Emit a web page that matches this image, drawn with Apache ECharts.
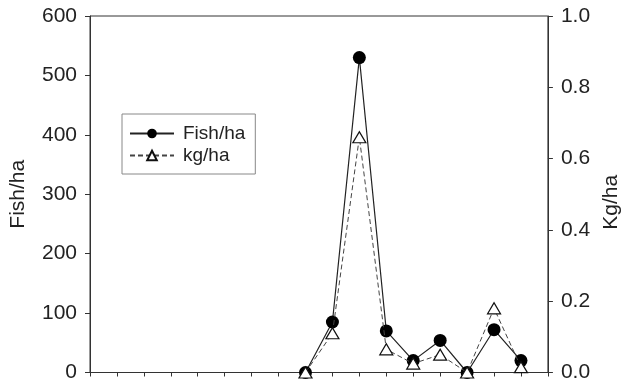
<!DOCTYPE html>
<html>
<head>
<meta charset="utf-8">
<script src="https://cdn.jsdelivr.net/npm/echarts@6/dist/echarts.min.js"></script>
<style>
  html, body { margin: 0; padding: 0; background: #fff; }
  #chart { width: 630px; height: 383px; }
</style>
</head>
<body>
<div id="chart"></div>
<script>
// Sampling stations along the x axis (positions 0..17, ticks at 1..16)
const stations = [8, 9, 10, 11, 12, 13, 14, 15, 16];
// Fish density (left axis)
const fishPerHa = [0, 85, 530, 70, 20, 54, 0, 72, 20];
// Biomass (right axis)
const kgPerHa = [0, 0.11, 0.66, 0.065, 0.025, 0.05, 0, 0.18, 0.015];
// Tick settings
const leftTicks = { min: 0, max: 600, interval: 100 };
const rightTicks = { min: 0, max: 1.0, interval: 0.2 };

const font = '"Liberation Sans", Arial, Helvetica, sans-serif';
const ink = '#222';

const chart = echarts.init(document.getElementById('chart'), null, { renderer: 'canvas' });

chart.setOption({
  animation: false,
  backgroundColor: '#fff',
  textStyle: { fontFamily: font },
  grid: {
    left: 89, right: 77, top: 16, bottom: 9,
    show: true, borderColor: '#333', borderWidth: 1, backgroundColor: 'transparent'
  },
  legend: {
    left: 122, top: 114,
    orient: 'vertical',
    borderColor: '#888', borderWidth: 1, borderRadius: 0,
    padding: [10, 10, 9, 7],
    itemWidth: 44, itemHeight: 12, itemGap: 3,
    textStyle: { fontFamily: font, fontSize: 19, color: ink, lineHeight: 19, padding: [0, 0, 0, 4] },
    data: ['Fish/ha', 'kg/ha']
  },
  xAxis: {
    type: 'value', min: 0, max: 17, interval: 1,
    axisLine: { show: true, lineStyle: { color: '#333', width: 1 } },
    axisTick: { show: true, inside: false, length: 4, lineStyle: { color: '#333' } },
    axisLabel: { show: false },
    splitLine: { show: false }
  },
  yAxis: [
    {
      type: 'value', min: leftTicks.min, max: leftTicks.max, interval: leftTicks.interval,
      position: 'left',
      name: 'Fish/ha', nameLocation: 'middle', nameGap: 61,
      nameTextStyle: { fontFamily: font, fontSize: 21, color: ink },
      axisLine: { show: true, lineStyle: { color: '#333', width: 1 } },
      axisTick: { show: true, inside: false, length: 5, lineStyle: { color: '#333' } },
      axisLabel: { fontFamily: font, fontSize: 21, color: ink, margin: 13 },
      splitLine: { show: false }
    },
    {
      type: 'value', min: rightTicks.min, max: rightTicks.max, interval: rightTicks.interval,
      position: 'right',
      name: 'Kg/ha', nameLocation: 'middle', nameGap: 37,
      nameTextStyle: { fontFamily: font, fontSize: 21, color: ink, padding: [0, 16, 0, 0] },
      axisLine: { show: true, lineStyle: { color: '#333', width: 1 } },
      axisTick: { show: true, inside: false, length: 5, lineStyle: { color: '#333' } },
      axisLabel: {
        fontFamily: font, fontSize: 21, color: ink, margin: 13,
        formatter: v => v.toFixed(1)
      },
      splitLine: { show: false }
    }
  ],
  series: [
    {
      name: 'Fish/ha',
      type: 'line',
      yAxisIndex: 0,
      data: stations.map((s, i) => [s, fishPerHa[i]]),
      symbol: 'circle', symbolSize: 13,
      lineStyle: { color: '#222', width: 1.2, type: 'solid' },
      itemStyle: { color: '#000', borderColor: '#000', borderWidth: 0 },
      z: 3
    },
    {
      name: 'kg/ha',
      type: 'line',
      yAxisIndex: 1,
      data: stations.map((s, i) => [s, kgPerHa[i]]),
      symbol: 'triangle', symbolSize: [13, 11],
      lineStyle: { color: '#444', width: 1, type: [5, 3] },
      itemStyle: { color: '#fff', borderColor: '#111', borderWidth: 1.2 },
      z: 4
    }
  ]
});
</script>
</body>
</html>
